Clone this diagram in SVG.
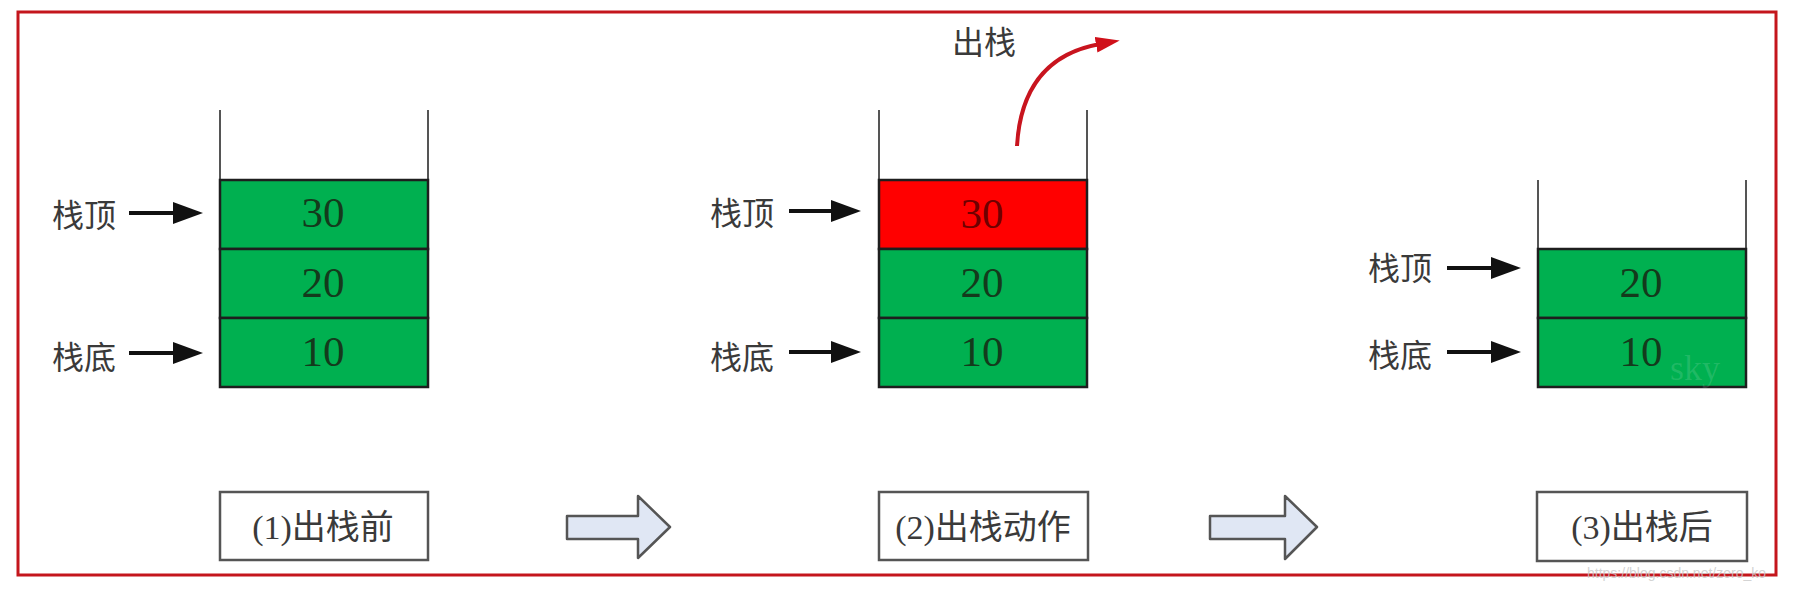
<svg xmlns="http://www.w3.org/2000/svg" width="1797" height="592" viewBox="0 0 1797 592">
<style>
.wall{stroke:#555;stroke-width:2;fill:none}
.cell{stroke:#1e1e1e;stroke-width:2.5}
.g{fill:#00b050}
.r{fill:#ff0000}
.num{font-family:"Liberation Serif",serif;font-size:43px;text-anchor:middle;dominant-baseline:central;fill:#143a1c}
.numr{fill:#6e0000}
.lbl{font-family:"Noto Sans CJK SC","Liberation Sans",sans-serif;font-size:32px;fill:#3a3a3a;dominant-baseline:central}
.box{fill:#fff;stroke:#555;stroke-width:2.5}
.btxt{font-family:"Liberation Serif","Noto Sans CJK SC",serif;font-size:34px;fill:#3a3a3a;text-anchor:middle;dominant-baseline:central}
.ptr{stroke:#111;stroke-width:4;fill:none;marker-end:url(#ah)}
.flow{fill:#e0e7f4;stroke:#555;stroke-width:2.5;stroke-linejoin:round}
</style>
<defs>
<marker id="ah" viewBox="0 0 30 22" refX="5" refY="11" markerWidth="30" markerHeight="22" markerUnits="userSpaceOnUse" orient="auto">
<path d="M0,0 L30,11 L0,22 Z" fill="#111"/>
</marker>
<marker id="rh" viewBox="0 0 24 16" refX="4" refY="8" markerWidth="24" markerHeight="16" markerUnits="userSpaceOnUse" orient="auto">
<path d="M0,0 L24,8 L0,16 Z" fill="#d0101a"/>
</marker>
</defs>
<rect width="1797" height="592" fill="#fff"/>
<rect id="frame" x="18" y="12" width="1758" height="563" fill="none" stroke="#c4161c" stroke-width="3"/>

<g id="stack1">
<line class="wall" x1="220" y1="110" x2="220" y2="180"/>
<line class="wall" x1="428" y1="110" x2="428" y2="180"/>
<rect class="cell g" x="220" y="180" width="208" height="69"/>
<rect class="cell g" x="220" y="249" width="208" height="69"/>
<rect class="cell g" x="220" y="318" width="208" height="69"/>
<text class="num" x="323" y="212">30</text>
<text class="num" x="323" y="282">20</text>
<text class="num" x="323" y="351">10</text>
</g>
<g id="top1"><text class="lbl" x="52" y="213">栈顶</text></g>
<g id="bottom1"><text class="lbl" x="52" y="355">栈底</text></g>

<g id="stack2">
<line class="wall" x1="879" y1="110" x2="879" y2="180"/>
<line class="wall" x1="1087" y1="110" x2="1087" y2="180"/>
<rect class="cell r" x="879" y="180" width="208" height="69"/>
<rect class="cell g" x="879" y="249" width="208" height="69"/>
<rect class="cell g" x="879" y="318" width="208" height="69"/>
<text class="num numr" x="982" y="213">30</text>
<text class="num" x="982" y="282">20</text>
<text class="num" x="982" y="351">10</text>
</g>
<g id="top2"><text class="lbl" x="710" y="211">栈顶</text></g>
<g id="bottom2"><text class="lbl" x="710" y="355">栈底</text></g>
<g id="pop"><text class="lbl" x="952" y="40">出栈</text></g>

<g id="stack3">
<line class="wall" x1="1538" y1="180" x2="1538" y2="249"/>
<line class="wall" x1="1746" y1="180" x2="1746" y2="249"/>
<rect class="cell g" x="1538" y="249" width="208" height="69"/>
<rect class="cell g" x="1538" y="318" width="208" height="69"/>
<text class="num" x="1641" y="282">20</text>
<text class="num" x="1641" y="351">10</text>
<text x="1670" y="380" font-family="Liberation Serif,serif" font-size="36" fill="#ffffff" fill-opacity="0.13">sky</text>
</g>
<g id="top3"><text class="lbl" x="1368" y="266">栈顶</text></g>
<g id="bottom3"><text class="lbl" x="1368" y="353">栈底</text></g>

<g id="caption1"><rect class="box" x="220" y="492" width="208" height="68"/><text class="btxt" x="323" y="527">(1)出栈前</text></g>
<g id="caption2"><rect class="box" x="879" y="492" width="209" height="68"/><text class="btxt" x="983" y="527">(2)出栈动作</text></g>
<g id="caption3"><rect class="box" x="1537" y="492" width="210" height="69"/><text class="btxt" x="1642" y="527">(3)出栈后</text></g>

<g id="connectors">
<line class="ptr" x1="129" y1="213" x2="178" y2="213"/>
<line class="ptr" x1="129" y1="353" x2="178" y2="353"/>
<line class="ptr" x1="789" y1="211" x2="836" y2="211"/>
<line class="ptr" x1="789" y1="352" x2="836" y2="352"/>
<line class="ptr" x1="1447" y1="268" x2="1496" y2="268"/>
<line class="ptr" x1="1447" y1="352" x2="1496" y2="352"/>
<path d="M1017,146 Q1022,58 1100,44" fill="none" stroke="#c8141e" stroke-width="4" marker-end="url(#rh)"/>
<path class="flow" d="M567,516 L638,516 L638,496 L670,527 L638,558 L638,539 L567,539 Z"/>
<path class="flow" d="M1210,516 L1285,516 L1285,496 L1317,527 L1285,559 L1285,539 L1210,539 Z"/>
</g>
<text x="1587" y="578" font-family="Liberation Sans,sans-serif" font-size="14" fill="#c8c8c8" fill-opacity="0.8">https://blog.csdn.net/zero_ko</text>
</svg>
